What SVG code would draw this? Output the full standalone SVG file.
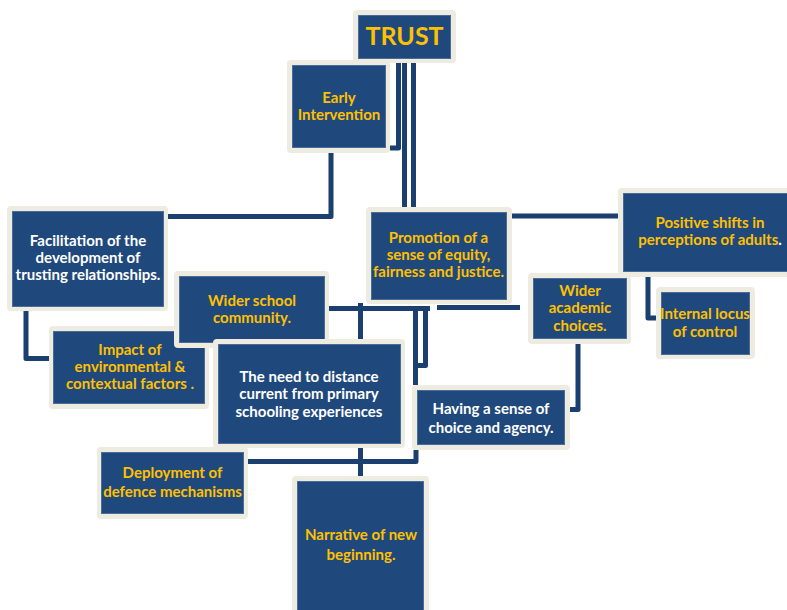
<svg xmlns="http://www.w3.org/2000/svg" width="787" height="610" viewBox="0 0 787 610">
  <defs>
    <style>
      .frame { fill: #EEECE1; }
      .body { fill: #1F497D; stroke: #4A6C98; stroke-width: 1; }
      .lbl { font-family: Lato, "Open Sans", sans-serif; font-weight: bold; font-size: 15px; text-anchor: middle; }
      .gold { fill: #FFC000; }
      .white { fill: #FFFFFF; }
      .title { font-size: 25px; }
      .link { fill: none; stroke: #1B3F6E; stroke-width: 5; stroke-linejoin: round; stroke-linecap: butt; }
    </style>
  </defs>
  <rect width="787" height="610" fill="#FFFFFF"/>

  <!-- connectors -->
  <g id="connectors">
    <path class="link" d="M398.5,63 V148 H390"/>
    <path class="link" d="M404.5,63 V207"/>
    <path class="link" d="M413.5,63 V207"/>
    <path class="link" d="M331,153 V216.5 H168"/>
    <path class="link" d="M26,311 V358.5 H50"/>
    <path class="link" d="M512,216 H618"/>
    <path class="link" d="M329,308.5 H430"/>
    <path class="link" d="M360.5,303 V339"/>
    <path class="link" d="M415.5,306 V385"/>
    <path class="link" d="M425.5,306 V365.5 H413"/>
    <path class="link" d="M437,307.5 H520"/>
    <path class="link" d="M578,344 V409.5 H570"/>
    <path class="link" d="M248,461.5 H416 V450"/>
    <path class="link" d="M360.5,448 V476"/>
    <path class="link" d="M648,277 V318 H656"/>
  </g>

  <!-- nodes -->
  <g id="trust">
    <rect class="frame" x="353" y="10" width="103" height="53" rx="4"/>
    <rect class="body" x="358.5" y="15.5" width="92" height="43"/>
    <text class="lbl gold title" x="404.5" y="45">TRUST</text>
  </g>

  <g id="early-intervention">
    <rect class="frame" x="287" y="60" width="103" height="93" rx="4"/>
    <rect class="body" x="292.5" y="65.5" width="93" height="82"/>
    <text class="lbl gold" x="339" y="103">Early</text>
    <text class="lbl gold" x="339" y="120">Intervention</text>
  </g>

  <g id="facilitation">
    <rect class="frame" x="7" y="206" width="161" height="105" rx="4"/>
    <rect class="body" x="12.5" y="211.5" width="151" height="95"/>
    <text class="lbl white" x="88" y="246">Facilitation of the</text>
    <text class="lbl white" x="88" y="263">development of</text>
    <text class="lbl white" x="88" y="280">trusting relationships.</text>
  </g>

  <g id="promotion">
    <rect class="frame" x="366" y="207" width="146" height="97" rx="4"/>
    <rect class="body" x="371.5" y="212.5" width="135" height="87"/>
    <text class="lbl gold" x="438.5" y="243">Promotion of a</text>
    <text class="lbl gold" x="438.5" y="260">sense of equity,</text>
    <text class="lbl gold" x="438.5" y="277">fairness and justice.</text>
  </g>

  <g id="positive-shifts">
    <rect class="frame" x="618" y="188" width="185" height="89" rx="4"/>
    <rect class="body" x="623.5" y="193.5" width="175" height="78"/>
    <text class="lbl gold" x="710" y="228">Positive shifts in</text>
    <text class="lbl gold" x="710" y="245">perceptions of adults<tspan class="white">.</tspan></text>
  </g>

  <g id="impact">
    <rect class="frame" x="49" y="326" width="160" height="83" rx="4"/>
    <rect class="body" x="53.5" y="331.5" width="151" height="72"/>
    <text class="lbl gold" x="130" y="355">Impact of</text>
    <text class="lbl gold" x="130" y="372">environmental &amp;</text>
    <text class="lbl gold" x="130" y="389">contextual factors .</text>
  </g>

  <g id="wider-school">
    <rect class="frame" x="174" y="271" width="155" height="77" rx="4"/>
    <rect class="body" x="179.5" y="276.5" width="145" height="66"/>
    <text class="lbl gold" x="252" y="306">Wider school</text>
    <text class="lbl gold" x="252" y="323">community.</text>
  </g>

  <g id="wider-academic">
    <rect class="frame" x="528" y="273" width="103" height="71" rx="4"/>
    <rect class="body" x="533.5" y="278.5" width="93" height="60"/>
    <text class="lbl gold" x="580" y="296">Wider</text>
    <text class="lbl gold" x="580" y="313">academic</text>
    <text class="lbl gold" x="580" y="331">choices.</text>
  </g>

  <g id="internal-locus">
    <rect class="frame" x="656" y="287" width="99" height="72" rx="4"/>
    <rect class="body" x="661.5" y="292.5" width="88" height="62"/>
    <text class="lbl gold" x="705" y="319">Internal locus</text>
    <text class="lbl gold" x="705" y="337">of control</text>
  </g>

  <g id="distance">
    <rect class="frame" x="213" y="339" width="192" height="109" rx="4"/>
    <rect class="body" x="218.5" y="344.5" width="182" height="99"/>
    <text class="lbl white" x="309" y="382">The need to distance</text>
    <text class="lbl white" x="309" y="399">current from primary</text>
    <text class="lbl white" x="309" y="417">schooling experiences</text>
  </g>

  <g id="choice-agency">
    <rect class="frame" x="412" y="385" width="158" height="65" rx="4"/>
    <rect class="body" x="417.5" y="390.5" width="147" height="54"/>
    <text class="lbl white" x="491" y="414">Having a sense of</text>
    <text class="lbl white" x="491" y="433">choice and agency.</text>
  </g>

  <g id="defence">
    <rect class="frame" x="97" y="447" width="151" height="72" rx="4"/>
    <rect class="body" x="101.5" y="452.5" width="142" height="61"/>
    <text class="lbl gold" x="172.5" y="478">Deployment of</text>
    <text class="lbl gold" x="172.5" y="497">defence mechanisms</text>
  </g>

  <g id="new-beginning">
    <rect class="frame" x="292" y="476" width="137" height="145" rx="4"/>
    <rect class="body" x="297.5" y="481.5" width="126" height="140"/>
    <text class="lbl gold" x="361" y="540">Narrative of new</text>
    <text class="lbl gold" x="361" y="560">beginning.</text>
  </g>
</svg>
